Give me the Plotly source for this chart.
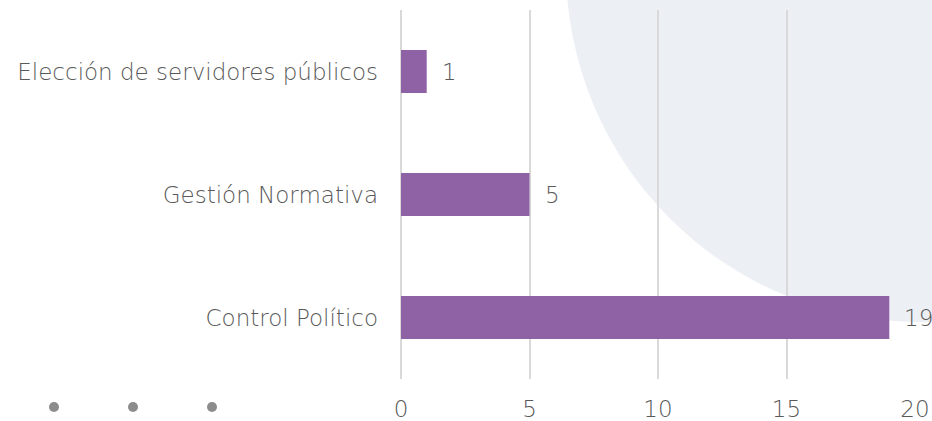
import plotly.graph_objects as go

categories = ["Control Político", "Gestión Normativa", "Elección de servidores públicos"]
values = [19, 5, 1]
x_ticks = [0, 5, 10, 15, 20]

W, H = 932, 421
L, R, T, B = 401, 17, 10, 42
pw, ph = W - L - R, H - T - B

def px_x(px):
    return (px - L) / pw

def px_y(py):
    return (H - B - py) / ph

FONT = "DejaVu Sans"
FS = 23
TXT = "#595959"
BAR = "#8F62A6"

fig = go.Figure()
fig.add_trace(go.Bar(
    x=values, y=categories, orientation="h",
    marker=dict(color=BAR, line=dict(width=0)),
    hoverinfo="skip",
))

for v, c in zip(values, categories):
    fig.add_annotation(x=v, y=c, xref="x", yref="y", text=str(v),
                       showarrow=False, xanchor="left", xshift=13,
                       font=dict(family=FONT, size=FS, color=TXT, weight=300))

# background decorative circle
cx, cy, r = 920, -32, 354
fig.add_shape(type="circle", xref="paper", yref="paper", layer="below",
              x0=px_x(cx - r), x1=px_x(cx + r), y0=px_y(cy + r), y1=px_y(cy - r),
              fillcolor="#ECEFF3", line=dict(width=0))

# decorative dots bottom left
for dx in [54, 133, 212]:
    d = 5
    fig.add_shape(type="circle", xref="paper", yref="paper",
                  x0=px_x(dx - d), x1=px_x(dx + d), y0=px_y(407 + d), y1=px_y(407 - d),
                  fillcolor="#8C8C8C", line=dict(width=0))

fig.update_layout(
    width=W, height=H,
    margin=dict(l=L, r=R, t=T, b=B, autoexpand=False),
    paper_bgcolor="white", plot_bgcolor="rgba(0,0,0,0)",
    showlegend=False, bargap=0.65,
    font=dict(family=FONT, size=FS, color=TXT, weight=300),
)
fig.update_xaxes(range=[0, 20], tickvals=x_ticks, showgrid=True, gridcolor="#D9D9D9",
                 gridwidth=1.5, zeroline=True, zerolinecolor="#D9D9D9", zerolinewidth=1.5,
                 showline=False, ticks="", ticklabelstandoff=14, automargin=False,
                 tickfont=dict(family=FONT, size=FS, color=TXT, weight=300), fixedrange=True)
fig.update_yaxes(showgrid=False, zeroline=False, showline=False, ticks="", automargin=False,
                 ticklabelstandoff=22, tickfont=dict(family=FONT, size=FS, color=TXT, weight=300),
                 fixedrange=True)

fig.write_html("out.html", config={"displayModeBar": False},
               post_script="document.body.style.margin='0';document.body.style.overflow='hidden';")
